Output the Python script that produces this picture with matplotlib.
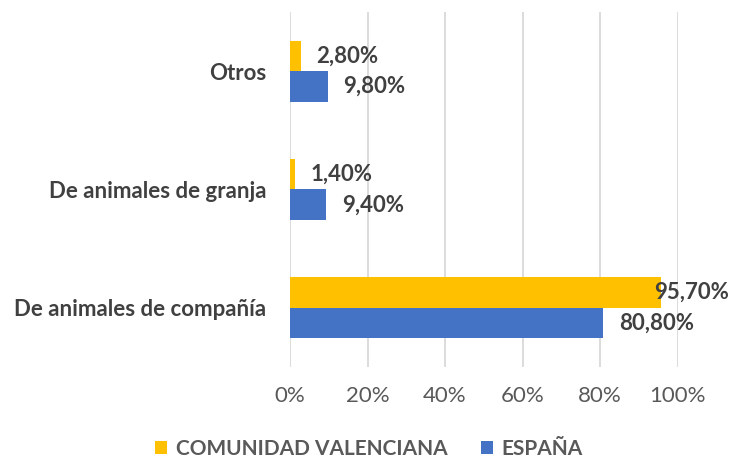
import matplotlib
matplotlib.use("Agg")
import matplotlib.pyplot as plt
import numpy as np

categories = ["De animales de compañía", "De animales de granja", "Otros"]
valenciana = [95.7, 1.4, 2.8]
espana = [80.8, 9.4, 9.8]
series_names = ["COMUNIDAD VALENCIANA", "ESPAÑA"]
xticks = [0, 20, 40, 60, 80, 100]

GOLD = "#FFC000"
BLUE = "#4472C4"
TXT = "#404040"

plt.rcParams["font.family"] = ["Lato", "DejaVu Sans"]

fig = plt.figure(figsize=(7.29, 4.59), dpi=100)
ax = fig.add_axes([0.3978, 0.2004, 0.9294 - 0.3978, 0.9739 - 0.2004])

y = np.arange(len(categories))
h = 0.258
ax.barh(y + h / 2, valenciana, height=h, color=GOLD, label=series_names[0], zorder=3)
ax.barh(y - h / 2, espana, height=h, color=BLUE, label=series_names[1], zorder=3)


def fmt(v):
    return f"{v:.2f}".replace(".", ",") + "%"


for vals, off in ((valenciana, h / 2), (espana, -h / 2)):
    for yi, v in zip(y, vals):
        xl = min(v + 4.0, 94.0)
        ax.text(xl, yi + off, fmt(v), ha="left", va="center", fontsize=16,
                fontweight="bold", color=TXT, zorder=4, clip_on=False)

ax.set_xlim(0, 100)
ax.set_ylim(-0.5, len(categories) - 0.5)
ax.set_xticks(xticks)
ax.set_xticklabels([f"{t}%" for t in xticks], fontsize=16, color="#595959")
ax.set_yticks(y)
ax.set_yticklabels(categories, fontsize=16, fontweight="bold", color=TXT)
ax.tick_params(axis="x", length=0, pad=14)
ax.tick_params(axis="y", length=0, pad=17)
ax.grid(axis="x", color="#D9D9D9", lw=1.3, zorder=0)
for s in ax.spines.values():
    s.set_visible(False)

leg = fig.legend(loc="lower center", bbox_to_anchor=(0.506, -0.04), ncol=2,
                 frameon=False, handlelength=0.6, handleheight=0.6,
                 columnspacing=1.6, handletextpad=0.4,
                 prop={"size": 15, "weight": "bold"})
for t in leg.get_texts():
    t.set_color("#595959")

fig.savefig("out.png", dpi=100)
